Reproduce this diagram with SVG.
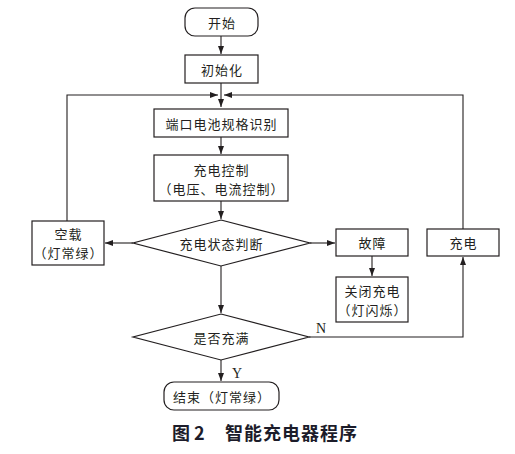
<svg xmlns="http://www.w3.org/2000/svg" width="515" height="454" viewBox="0 0 515 454">
<defs>
<style>
.box{fill:#fff;stroke:#231f20;stroke-width:1.2}
.ln{fill:none;stroke:#231f20;stroke-width:1.1}
.t{font-family:"Noto Sans CJK SC","Noto Sans CJK JP",sans-serif;font-size:13px;fill:#231f20;text-anchor:middle;dominant-baseline:central;letter-spacing:1px}
.yn{font-family:"Liberation Serif",serif;font-size:14px;fill:#231f20}
.cap{font-family:"Noto Sans CJK SC","Noto Sans CJK JP",sans-serif;font-size:18px;font-weight:bold;fill:#1c1c2a;dominant-baseline:central}
</style>
<marker id="ah" viewBox="0 0 8 6" refX="8" refY="3" markerWidth="8" markerHeight="6" markerUnits="userSpaceOnUse" orient="auto">
<path d="M0,0 L8,3 L0,6 Z" fill="#231f20"/>
</marker>
</defs>
<rect width="515" height="454" fill="#fff"/>
<g id="connectors">
<path class="ln" d="M221,36 V54" marker-end="url(#ah)"/>
<path class="ln" d="M221,83 V107" marker-end="url(#ah)"/>
<path class="ln" d="M67,221 V95 H218" marker-end="url(#ah)"/>
<path class="ln" d="M463,229 V95 H224" marker-end="url(#ah)"/>
<path class="ln" d="M221,137 V154" marker-end="url(#ah)"/>
<path class="ln" d="M221,201 V219" marker-end="url(#ah)"/>
<path class="ln" d="M133,243 H105" marker-end="url(#ah)"/>
<path class="ln" d="M310,243 H335" marker-end="url(#ah)"/>
<path class="ln" d="M372,256 V276" marker-end="url(#ah)"/>
<path class="ln" d="M221,266 V313" marker-end="url(#ah)"/>
<path class="ln" d="M309,337 H463 V257" marker-end="url(#ah)"/>
<path class="ln" d="M221,360 V381" marker-end="url(#ah)"/>
<text class="yn" x="316" y="333">N</text>
<text class="yn" x="232" y="378">Y</text>
</g>
<g id="start"><rect class="box" x="185" y="8" width="73" height="28" rx="10"/><text class="t" x="222" y="22">开始</text></g>
<g id="init"><rect class="box" x="185" y="55" width="73" height="28"/><text class="t" x="222" y="69">初始化</text></g>
<g id="identify"><rect class="box" x="154" y="109" width="134" height="28"/><text class="t" x="221.5" y="123">端口电池规格识别</text></g>
<g id="control"><rect class="box" x="154" y="155" width="134" height="46"/><text class="t" x="221.5" y="169">充电控制</text><text class="t" x="221.5" y="188">（电压、电流控制）</text></g>
<g id="judge"><polygon class="box" points="221,220 310,243 221,266 133,243"/><text class="t" x="221.5" y="243">充电状态判断</text></g>
<g id="noload"><rect class="box" x="32" y="221" width="72" height="44"/><text class="t" x="68.5" y="233.5">空载</text><text class="t" x="68.5" y="252.5">（灯常绿）</text></g>
<g id="fault"><rect class="box" x="336" y="229" width="72" height="27"/><text class="t" x="372.5" y="242.5">故障</text></g>
<g id="shutdown"><rect class="box" x="336" y="277" width="72" height="45"/><text class="t" x="372.5" y="290">关闭充电</text><text class="t" x="372.5" y="309">（灯闪烁）</text></g>
<g id="charge"><rect class="box" x="427" y="229" width="72" height="27"/><text class="t" x="463.5" y="242.5">充电</text></g>
<g id="full"><polygon class="box" points="221,314 309,337 221,360 133,337"/><text class="t" x="221.5" y="337">是否充满</text></g>
<g id="end"><rect class="box" x="164" y="382" width="115" height="28" rx="10"/><text class="t" x="222" y="396">结束（灯常绿）</text></g>
<g id="caption"><text class="cap" x="172" y="432">图 2</text><text class="cap" x="225" y="432" letter-spacing="1">智能充电器程序</text></g>
</svg>
